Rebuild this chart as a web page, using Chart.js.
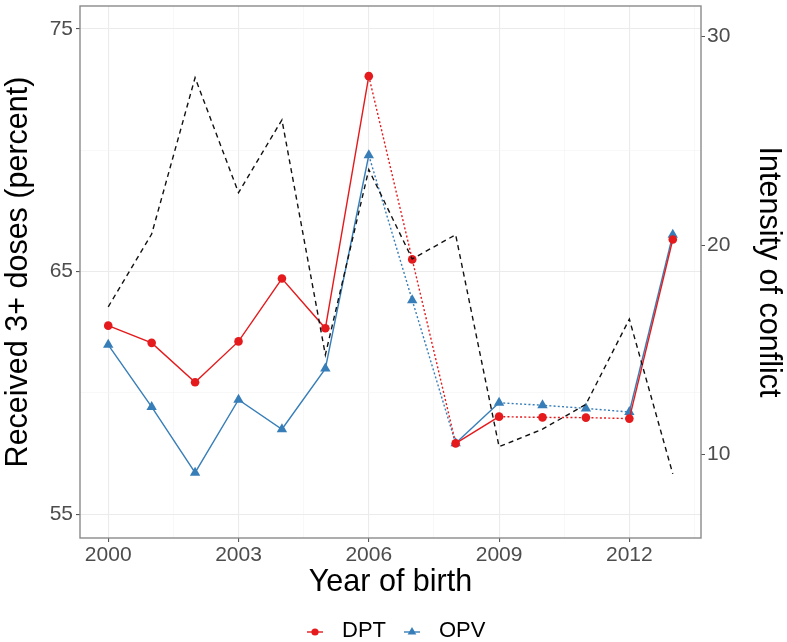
<!DOCTYPE html>
<html><head><meta charset="utf-8">
<script src="https://cdn.jsdelivr.net/npm/chart.js@4.4.0/dist/chart.umd.min.js"></script>
<style>html,body{margin:0;padding:0;background:#fff;}#wrap{width:787px;height:642px;}</style>
</head><body><div id="wrap"><canvas id="c" width="787" height="642"></canvas></div>
<script>
// ---- data ----
const years = [2000,2001,2002,2003,2004,2005,2006,2007,2008,2009,2010,2011,2012,2013];
const dpt = [62.77,62.06,60.44,62.12,64.71,62.66,73.05,65.50,57.92,59.02,58.99,58.98,58.94,66.32];
const opv = [61.98,59.42,56.71,59.72,58.50,61.00,69.79,63.82,57.92,59.59,59.49,59.36,59.21,66.51];
const conflict = [17.05,20.53,28.02,22.51,26.0,14.75,23.62,19.34,20.50,10.35,11.19,12.38,16.46,9.05];
const seriesNames = ['DPT','OPV'];
const xMajorTicks = [2000,2003,2006,2009,2012];
const xMinorTicks = [2001.5,2004.5,2007.5,2010.5,2013.5];
const yMajorTicks = [55,65,75];
const yMinorTicks = [60,70];
const y2Ticks = [10,20,30];
const dottedFrom = [6,7,9,10,11]; // segments (by start index) drawn dotted

const FONT = "'Liberation Sans', Arial, Helvetica, sans-serif";
const RED = '#E41A1C', BLUE = '#377EB8';
const GRID = '#EBEBEB', GRID_MINOR = '#F3F3F3', TICKC = '#555555';
const TITLE_SIZE = 30.5, TICK_SIZE = 21;

const mk = arr => arr.map((v,i)=>({x:years[i], y:v}));

const panelBorder = {
  id:'panelBorder',
  beforeDraw(chart){
    const c = chart.ctx; c.save(); c.fillStyle='#fff'; c.fillRect(0,0,chart.width,chart.height); c.restore();
  },
  afterDraw(chart){
    const {ctx, chartArea:a} = chart;
    ctx.save();
    ctx.strokeStyle = '#8A8A8A'; ctx.lineWidth = 1.4;
    ctx.strokeRect(a.left, a.top, a.right-a.left, a.bottom-a.top);
    // legend
    const y = 631;
    let x = 307;
    ctx.font = '22px ' + FONT; ctx.textBaseline = 'middle'; ctx.textAlign='left';
    const cols = [RED, BLUE];
    seriesNames.forEach((name, i) => {
      ctx.strokeStyle = cols[i]; ctx.lineWidth = 1.4;
      ctx.beginPath(); ctx.moveTo(x, y+1); ctx.lineTo(x+16, y+1); ctx.stroke();
      ctx.fillStyle = cols[i];
      ctx.beginPath();
      if (i===0) { ctx.arc(x+8, y+1, 3.6, 0, Math.PI*2); }
      else { const r=5; ctx.moveTo(x+8, y+1-r); ctx.lineTo(x+8+r*0.866, y+1+r/2); ctx.lineTo(x+8-r*0.866, y+1+r/2); ctx.closePath(); }
      ctx.fill();
      ctx.fillStyle = '#000';
      ctx.fillText(name, x+35, y);
      x += 35 + ctx.measureText(name).width + 18;
    });
    ctx.restore();
  }
};

const lineStyle = (color, style) => ({
  borderColor: color, backgroundColor: color, pointBackgroundColor: color, pointBorderColor: color,
  borderWidth: 1.4, pointStyle: style, pointRadius: style==='circle'?4.3:6, pointBorderWidth: 0,
  borderDash: [], tension: 0, yAxisID: 'y',
  segment: { borderDash: ctx => dottedFrom.includes(ctx.p0DataIndex) ? [2,2.2] : undefined }
});

const noPad = s => { s.paddingTop = 0; s.paddingBottom = 0; s.paddingLeft = 0; s.paddingRight = 0; };

new Chart(document.getElementById('c'), {
  type: 'line',
  data: {
    datasets: [
      Object.assign({label: seriesNames[0], data: mk(dpt), order: 1}, lineStyle(RED,'circle')),
      Object.assign({label: seriesNames[1], data: mk(opv), order: 2}, lineStyle(BLUE,'triangle')),
      {label:'Conflict', data: mk(conflict), yAxisID:'y2', borderColor:'#111', borderWidth:1.4,
       borderDash:[5,4], pointRadius:0, tension:0, order: 0}
    ]
  },
  options: {
    responsive:false, animation:false, devicePixelRatio:1,
    layout: { padding: {left:0, right:0, top:2, bottom:40} },
    plugins: { legend:{display:false}, tooltip:{enabled:false} },
    scales: {
      x: {
        type:'linear', min:1999.35, max:2013.65,
        afterBuildTicks: s => { s.ticks = xMajorTicks.concat(xMinorTicks).sort((a,b)=>a-b).map(v=>({value:v})); },
        afterFit: s => { s.height = 64; noPad(s); },
        ticks: { autoSkip:false, maxRotation:0, color:'#4D4D4D', font:{family:FONT, size:TICK_SIZE}, padding:1,
                 callback: v => xMajorTicks.includes(v) ? String(v) : '' },
        grid: { color: c => xMajorTicks.includes(c.tick.value) ? GRID : GRID_MINOR,
                lineWidth: c => xMajorTicks.includes(c.tick.value) ? 1.1 : 0.6,
                tickColor: c => xMajorTicks.includes(c.tick.value) ? TICKC : 'rgba(0,0,0,0)',
                tickLength:4, drawTicks:true },
        border: { display:false },
        title: { display:true, text:'Year of birth', color:'#000', font:{family:FONT, size:TITLE_SIZE}, padding:{top:0,bottom:1} }
      },
      y: {
        position:'left', min:54.02, max:75.94,
        afterBuildTicks: s => { s.ticks = yMajorTicks.concat(yMinorTicks).sort((a,b)=>a-b).map(v=>({value:v})); },
        afterFit: s => { s.width = 80; noPad(s); },
        ticks: { color:'#4D4D4D', font:{family:FONT, size:TICK_SIZE}, padding:3,
                 callback: v => yMajorTicks.includes(v) ? String(v) : '' },
        grid: { color: c => yMajorTicks.includes(c.tick.value) ? GRID : GRID_MINOR,
                lineWidth: c => yMajorTicks.includes(c.tick.value) ? 1.1 : 0.6,
                tickColor: c => yMajorTicks.includes(c.tick.value) ? TICKC : 'rgba(0,0,0,0)',
                tickLength:4 },
        border: { display:false },
        title: { display:true, text:'Received 3+ doses (percent)', color:'#000', font:{family:FONT, size:TITLE_SIZE}, padding:{top:0,bottom:0} }
      },
      y2: {
        position:'right', min:5.98, max:31.45,
        afterBuildTicks: s => { s.ticks = y2Ticks.map(v=>({value:v})); },
        afterFit: s => { s.width = 86; noPad(s); },
        ticks: { color:'#4D4D4D', font:{family:FONT, size:TICK_SIZE}, padding:2 },
        grid: { drawOnChartArea:false, tickColor:TICKC, tickLength:4 },
        border: { display:false },
        title: { display:true, text:'Intensity of conflict', color:'#000', font:{family:FONT, size:TITLE_SIZE}, padding:{top:0,bottom:0} }
      }
    }
  },
  plugins: [panelBorder]
});
</script></body></html>
